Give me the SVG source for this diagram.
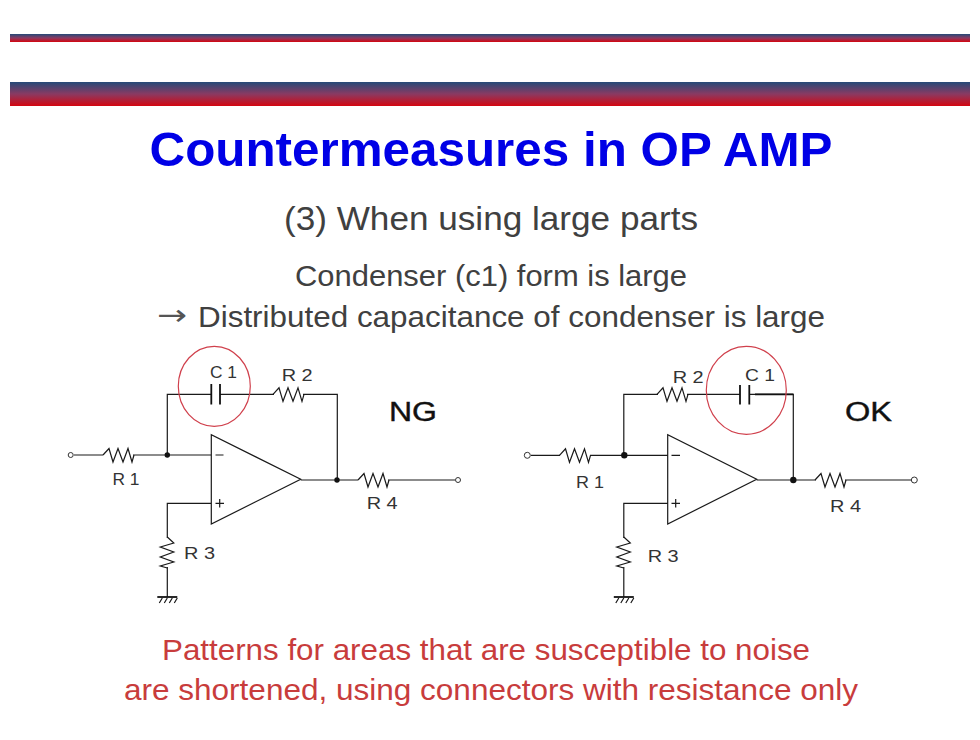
<svg xmlns="http://www.w3.org/2000/svg" width="980" height="740" viewBox="0 0 980 740">
<style>
text{font-family:"Liberation Sans",Arial,sans-serif}
.w{fill:none;stroke:#1a1a1a;stroke-width:1.2;stroke-linejoin:miter}
.h{fill:none;stroke:#111;stroke-width:1.8}
.d{fill:#111;stroke:none}
.t{fill:#fff;stroke:#333;stroke-width:1}
.ring{fill:none;stroke:#d0404c;stroke-width:1.2}
.l{font-size:16.500px;fill:#333}
.ng{font-size:27px;fill:#111;stroke:#111;stroke-width:.4}
.s{fill:#404040}
.r{font-size:30px;fill:#c83c3c}
</style>
<defs>
<linearGradient id="g" x1="0" y1="0" x2="0" y2="1"><stop offset="0" stop-color="#254a78"/><stop offset="0.5" stop-color="#8a3a62"/><stop offset="1" stop-color="#d40610"/></linearGradient>
<path id="z" class="w" d="M0 0L6-6.5L10 7L15-6.5L20 7L25-6.5L29 7L31 0"/>
<g id="gnd"><path class="h" d="M-10 0H10"/><path class="w" d="M-5 1L-8 6M0 1L-3 6M5 1L2 6M10 1L7 6" stroke-width="0.8"/></g>
</defs>
<rect x="10" y="34" width="960" height="8" fill="url(#g)"/>
<rect x="10" y="82" width="960" height="24" fill="url(#g)"/>
<text x="491" y="166" text-anchor="middle" font-size="48" font-weight="bold" fill="#0000e6" textLength="683" lengthAdjust="spacingAndGlyphs">Countermeasures in OP AMP</text>
<text class="s" x="491" y="230" text-anchor="middle" font-size="34" textLength="414" lengthAdjust="spacingAndGlyphs">(3) When using large parts</text>
<text class="s" x="491" y="286" text-anchor="middle" font-size="29" textLength="392" lengthAdjust="spacingAndGlyphs">Condenser (c1) form is large</text>
<text x="157" y="325" font-size="29" fill="#555" style="font-family:'DejaVu Sans',sans-serif" textLength="30" lengthAdjust="spacingAndGlyphs">→</text>
<text class="s" x="198" y="327" font-size="29" textLength="627" lengthAdjust="spacingAndGlyphs">Distributed capacitance of condenser is large</text>
<g id="connectors">
<path class="w" d="M74 455H103M133 455H211M167.300 455V394.300H211.300M220 394.300H274M303 394.300H337.300V480M300.700 480H358M388 480H455M211 503.300H167.300V538M167.300 567V597"/>
<path class="w" d="M531 455.300H560M590 455.300H668M623.800 455.300V394.300H658M687 394.300H740M749.300 394.300H793.300V480M756.700 480H816M845 480H911M668 503.300H623.800V538M623.800 567V597"/>
<path class="h" d="M755 394.300H793.300"/>
</g>
<g id="ng-circuit">
<g id="ng-r1"><use href="#z" x="103" y="455"/><text class="l" x="112.500" y="485" textLength="27" lengthAdjust="spacingAndGlyphs">R 1</text></g>
<g id="ng-r2"><use href="#z" x="273" y="394.300"/><text class="l" x="281.700" y="381" textLength="31" lengthAdjust="spacingAndGlyphs">R 2</text></g>
<g id="ng-r3"><use href="#z" transform="translate(167.300 537) rotate(90)"/><text class="l" x="184" y="559" textLength="31" lengthAdjust="spacingAndGlyphs">R 3</text></g>
<g id="ng-r4"><use href="#z" x="358" y="480"/><text class="l" x="366.700" y="509" textLength="31" lengthAdjust="spacingAndGlyphs">R 4</text></g>
<g id="ng-c1"><path class="h" d="M211.300 384V404.500M220 384V404.500"/><text class="l" x="210" y="378" textLength="27" lengthAdjust="spacingAndGlyphs">C 1</text></g>
<g id="ng-ring"><ellipse class="ring" cx="214.300" cy="386.300" rx="36" ry="40"/></g>
<g id="ng-amp"><path class="w" d="M211.300 434.700V524L300.700 479.300Z"/><path class="w" d="M215.500 455H223.500M215.500 503.300H224M219.700 499V507.500"/></g>
<g id="ng-j1"><circle class="d" cx="167.300" cy="455" r="2.700"/></g>
<g id="ng-j2"><circle class="d" cx="337" cy="480" r="2.700"/></g>
<g id="ng-in"><circle class="t" cx="70.700" cy="455" r="2.500"/></g>
<g id="ng-out"><circle class="t" cx="458" cy="480" r="2.500"/></g>
<g id="ng-gnd"><use href="#gnd" x="167.300" y="597"/></g>
<g id="ng-label"><text class="ng" x="389" y="421" textLength="48" lengthAdjust="spacingAndGlyphs">NG</text></g>
</g>
<g id="ok-circuit">
<g id="ok-r1"><use href="#z" x="559.500" y="455.300"/><text class="l" x="576" y="488" textLength="28" lengthAdjust="spacingAndGlyphs">R 1</text></g>
<g id="ok-r2"><use href="#z" x="657" y="394.300"/><text class="l" x="672.700" y="383.300" textLength="31" lengthAdjust="spacingAndGlyphs">R 2</text></g>
<g id="ok-r3"><use href="#z" transform="translate(623.800 537) rotate(90)"/><text class="l" x="647.700" y="562" textLength="31" lengthAdjust="spacingAndGlyphs">R 3</text></g>
<g id="ok-r4"><use href="#z" x="815" y="480"/><text class="l" x="830" y="512" textLength="31" lengthAdjust="spacingAndGlyphs">R 4</text></g>
<g id="ok-c1"><path class="h" d="M740 385V404.500M749.300 385V404.500"/><text class="l" x="745" y="381" textLength="30" lengthAdjust="spacingAndGlyphs">C 1</text></g>
<g id="ok-ring"><ellipse class="ring" cx="746.300" cy="390.300" rx="40" ry="44"/></g>
<g id="ok-amp"><path class="w" d="M667.700 434.700V524L756.700 479.300Z"/><path class="w" d="M671.500 455.300H680M671.500 503.300H680M675.700 499V507.500"/></g>
<g id="ok-j1"><circle class="d" cx="624.300" cy="455.300" r="3.200"/></g>
<g id="ok-j2"><circle class="d" cx="793.300" cy="480" r="3.200"/></g>
<g id="ok-in"><circle class="t" cx="527.300" cy="455.300" r="3"/></g>
<g id="ok-out"><circle class="t" cx="914.300" cy="480" r="3"/></g>
<g id="ok-gnd"><use href="#gnd" x="623.800" y="597"/></g>
<g id="ok-label"><text class="ng" x="845" y="421" textLength="47" lengthAdjust="spacingAndGlyphs">OK</text></g>
</g>
<text class="r" x="486" y="660" text-anchor="middle" textLength="648" lengthAdjust="spacingAndGlyphs">Patterns for areas that are susceptible to noise</text>
<text class="r" x="491" y="700" text-anchor="middle" textLength="734" lengthAdjust="spacingAndGlyphs">are shortened, using connectors with resistance only</text>
</svg>
